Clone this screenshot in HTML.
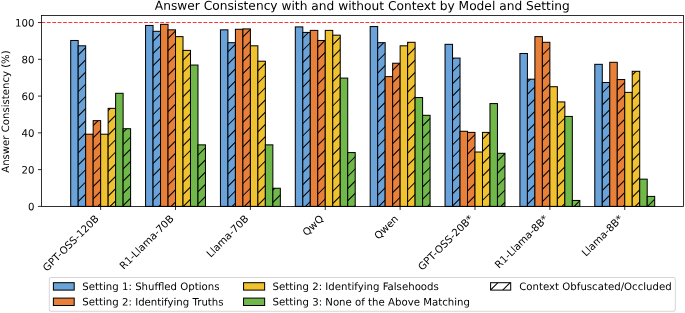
<!DOCTYPE html>
<html lang="en"><head><meta charset="utf-8"><title>Answer Consistency with and without Context by Model and Setting</title>
<style>html,body{margin:0;padding:0;background:#fff}svg{display:block;opacity:0.999;will-change:transform}text{text-rendering:geometricPrecision;font-family:"DejaVu Sans","Liberation Sans",sans-serif;fill:#000}</style>
</head><body>
<svg width="685" height="313" viewBox="0 0 685 313">
<rect width="685" height="313" fill="#fff"/>
<defs><clipPath id="c1"><rect x="78.19" y="45.8" width="7.49" height="160.6"/></clipPath><clipPath id="c2"><rect x="153.06" y="31.31" width="7.49" height="175.09"/></clipPath><clipPath id="c3"><rect x="227.93" y="42.68" width="7.49" height="163.72"/></clipPath><clipPath id="c4"><rect x="302.8" y="32.41" width="7.49" height="173.99"/></clipPath><clipPath id="c5"><rect x="377.67" y="42.68" width="7.49" height="163.72"/></clipPath><clipPath id="c6"><rect x="452.54" y="58.09" width="7.49" height="148.31"/></clipPath><clipPath id="c7"><rect x="527.41" y="79.19" width="7.49" height="127.21"/></clipPath><clipPath id="c8"><rect x="602.28" y="82.49" width="7.49" height="123.91"/></clipPath><clipPath id="c9"><rect x="93.16" y="120.65" width="7.49" height="85.75"/></clipPath><clipPath id="c10"><rect x="168.03" y="29.84" width="7.49" height="176.56"/></clipPath><clipPath id="c11"><rect x="242.9" y="28.92" width="7.49" height="177.48"/></clipPath><clipPath id="c12"><rect x="317.77" y="40.48" width="7.49" height="165.92"/></clipPath><clipPath id="c13"><rect x="392.64" y="63.23" width="7.49" height="143.17"/></clipPath><clipPath id="c14"><rect x="467.51" y="132.39" width="7.49" height="74.01"/></clipPath><clipPath id="c15"><rect x="542.38" y="42.31" width="7.49" height="164.09"/></clipPath><clipPath id="c16"><rect x="617.25" y="79.55" width="7.49" height="126.85"/></clipPath><clipPath id="c17"><rect x="108.14" y="108.35" width="7.49" height="98.05"/></clipPath><clipPath id="c18"><rect x="183.01" y="50.38" width="7.49" height="156.02"/></clipPath><clipPath id="c19"><rect x="257.88" y="61.21" width="7.49" height="145.19"/></clipPath><clipPath id="c20"><rect x="332.75" y="35.16" width="7.49" height="171.24"/></clipPath><clipPath id="c21"><rect x="407.62" y="42.31" width="7.49" height="164.09"/></clipPath><clipPath id="c22"><rect x="482.49" y="132.39" width="7.49" height="74.01"/></clipPath><clipPath id="c23"><rect x="557.36" y="101.93" width="7.49" height="104.47"/></clipPath><clipPath id="c24"><rect x="632.23" y="71.3" width="7.49" height="135.1"/></clipPath><clipPath id="c25"><rect x="123.11" y="128.72" width="7.49" height="77.68"/></clipPath><clipPath id="c26"><rect x="197.98" y="144.86" width="7.49" height="61.54"/></clipPath><clipPath id="c27"><rect x="272.85" y="188.25" width="7.49" height="18.15"/></clipPath><clipPath id="c28"><rect x="347.72" y="152.57" width="7.49" height="53.83"/></clipPath><clipPath id="c29"><rect x="422.59" y="115.33" width="7.49" height="91.07"/></clipPath><clipPath id="c30"><rect x="497.46" y="153.3" width="7.49" height="53.1"/></clipPath><clipPath id="c31"><rect x="572.33" y="200.45" width="7.49" height="5.95"/></clipPath><clipPath id="c32"><rect x="647.2" y="196.41" width="7.49" height="9.99"/></clipPath><clipPath id="cl"><rect x="490.6" y="282.7" width="20.1" height="7.4"/></clipPath></defs>
<g><rect x="70.7" y="40.48" width="7.49" height="165.92" fill="#6aa3d9" stroke="#000" stroke-width="1.02"/><rect x="145.57" y="25.44" width="7.49" height="180.96" fill="#6aa3d9" stroke="#000" stroke-width="1.02"/><rect x="220.44" y="29.84" width="7.49" height="176.56" fill="#6aa3d9" stroke="#000" stroke-width="1.02"/><rect x="295.31" y="26.9" width="7.49" height="179.5" fill="#6aa3d9" stroke="#000" stroke-width="1.02"/><rect x="370.18" y="26.54" width="7.49" height="179.86" fill="#6aa3d9" stroke="#000" stroke-width="1.02"/><rect x="445.05" y="44.33" width="7.49" height="162.07" fill="#6aa3d9" stroke="#000" stroke-width="1.02"/><rect x="519.92" y="53.5" width="7.49" height="152.9" fill="#6aa3d9" stroke="#000" stroke-width="1.02"/><rect x="594.79" y="64.33" width="7.49" height="142.07" fill="#6aa3d9" stroke="#000" stroke-width="1.02"/><rect x="78.19" y="45.8" width="7.49" height="160.6" fill="#6aa3d9"/><path clip-path="url(#c1)" d="M76.19 32.63L87.68 21.15M76.19 44.85L87.68 33.36M76.19 57.06L87.68 45.57M76.19 69.28L87.68 57.79M76.19 81.49L87.68 70M76.19 93.7L87.68 82.22M76.19 105.92L87.68 94.43M76.19 118.13L87.68 106.64M76.19 130.34L87.68 118.86M76.19 142.56L87.68 131.07M76.19 154.77L87.68 143.29M76.19 166.99L87.68 155.5M76.19 179.2L87.68 167.71M76.19 191.42L87.68 179.93M76.19 203.63L87.68 192.14M76.19 215.84L87.68 204.36M76.19 228.06L87.68 216.57M76.19 240.27L87.68 228.78" stroke="#000" stroke-width="1.02" fill="none"/><rect x="78.19" y="45.8" width="7.49" height="160.6" fill="none" stroke="#000" stroke-width="1.02"/><rect x="153.06" y="31.31" width="7.49" height="175.09" fill="#6aa3d9"/><path clip-path="url(#c2)" d="M151.06 18.83L162.55 7.35M151.06 31.05L162.55 19.56M151.06 43.26L162.55 31.77M151.06 55.47L162.55 43.99M151.06 67.69L162.55 56.2M151.06 79.9L162.55 68.42M151.06 92.12L162.55 80.63M151.06 104.33L162.55 92.84M151.06 116.55L162.55 105.06M151.06 128.76L162.55 117.27M151.06 140.97L162.55 129.49M151.06 153.19L162.55 141.7M151.06 165.4L162.55 153.91M151.06 177.62L162.55 166.13M151.06 189.83L162.55 178.34M151.06 202.04L162.55 190.56M151.06 214.26L162.55 202.77M151.06 226.47L162.55 214.98M151.06 238.69L162.55 227.2" stroke="#000" stroke-width="1.02" fill="none"/><rect x="153.06" y="31.31" width="7.49" height="175.09" fill="none" stroke="#000" stroke-width="1.02"/><rect x="227.93" y="42.68" width="7.49" height="163.72" fill="#6aa3d9"/><path clip-path="url(#c3)" d="M225.93 29.46L237.42 17.97M225.93 41.68L237.42 30.19M225.93 53.89L237.42 42.4M225.93 66.1L237.42 54.62M225.93 78.32L237.42 66.83M225.93 90.53L237.42 79.04M225.93 102.75L237.42 91.26M225.93 114.96L237.42 103.47M225.93 127.17L237.42 115.69M225.93 139.39L237.42 127.9M225.93 151.6L237.42 140.11M225.93 163.82L237.42 152.33M225.93 176.03L237.42 164.54M225.93 188.24L237.42 176.76M225.93 200.46L237.42 188.97M225.93 212.67L237.42 201.18M225.93 224.89L237.42 213.4M225.93 237.1L237.42 225.61" stroke="#000" stroke-width="1.02" fill="none"/><rect x="227.93" y="42.68" width="7.49" height="163.72" fill="none" stroke="#000" stroke-width="1.02"/><rect x="302.8" y="32.41" width="7.49" height="173.99" fill="#6aa3d9"/><path clip-path="url(#c4)" d="M300.8 15.66L312.29 4.17M300.8 27.88L312.29 16.39M300.8 40.09L312.29 28.6M300.8 52.3L312.29 40.82M300.8 64.52L312.29 53.03M300.8 76.73L312.29 65.24M300.8 88.94L312.29 77.46M300.8 101.16L312.29 89.67M300.8 113.37L312.29 101.89M300.8 125.59L312.29 114.1M300.8 137.8L312.29 126.31M300.8 150.01L312.29 138.53M300.8 162.23L312.29 150.74M300.8 174.44L312.29 162.96M300.8 186.66L312.29 175.17M300.8 198.87L312.29 187.38M300.8 211.08L312.29 199.6M300.8 223.3L312.29 211.81M300.8 235.51L312.29 224.03" stroke="#000" stroke-width="1.02" fill="none"/><rect x="302.8" y="32.41" width="7.49" height="173.99" fill="none" stroke="#000" stroke-width="1.02"/><rect x="377.67" y="42.68" width="7.49" height="163.72" fill="#6aa3d9"/><path clip-path="url(#c5)" d="M375.67 26.29L387.16 14.8M375.67 38.5L387.16 27.02M375.67 50.72L387.16 39.23M375.67 62.93L387.16 51.44M375.67 75.14L387.16 63.66M375.67 87.36L387.16 75.87M375.67 99.57L387.16 88.09M375.67 111.79L387.16 100.3M375.67 124L387.16 112.51M375.67 136.21L387.16 124.73M375.67 148.43L387.16 136.94M375.67 160.64L387.16 149.16M375.67 172.86L387.16 161.37M375.67 185.07L387.16 173.58M375.67 197.29L387.16 185.8M375.67 209.5L387.16 198.01M375.67 221.71L387.16 210.23M375.67 233.93L387.16 222.44" stroke="#000" stroke-width="1.02" fill="none"/><rect x="377.67" y="42.68" width="7.49" height="163.72" fill="none" stroke="#000" stroke-width="1.02"/><rect x="452.54" y="58.09" width="7.49" height="148.31" fill="#6aa3d9"/><path clip-path="url(#c6)" d="M450.54 36.92L462.03 25.43M450.54 49.13L462.03 37.64M450.54 61.34L462.03 49.86M450.54 73.56L462.03 62.07M450.54 85.77L462.03 74.29M450.54 97.99L462.03 86.5M450.54 110.2L462.03 98.71M450.54 122.42L462.03 110.93M450.54 134.63L462.03 123.14M450.54 146.84L462.03 135.36M450.54 159.06L462.03 147.57M450.54 171.27L462.03 159.78M450.54 183.48L462.03 172M450.54 195.7L462.03 184.21M450.54 207.91L462.03 196.43M450.54 220.13L462.03 208.64M450.54 232.34L462.03 220.85" stroke="#000" stroke-width="1.02" fill="none"/><rect x="452.54" y="58.09" width="7.49" height="148.31" fill="none" stroke="#000" stroke-width="1.02"/><rect x="527.41" y="79.19" width="7.49" height="127.21" fill="#6aa3d9"/><path clip-path="url(#c7)" d="M525.41 59.76L536.9 48.27M525.41 71.97L536.9 60.49M525.41 84.19L536.9 72.7M525.41 96.4L536.9 84.91M525.41 108.62L536.9 97.13M525.41 120.83L536.9 109.34M525.41 133.04L536.9 121.56M525.41 145.26L536.9 133.77M525.41 157.47L536.9 145.98M525.41 169.69L536.9 158.2M525.41 181.9L536.9 170.41M525.41 194.11L536.9 182.63M525.41 206.33L536.9 194.84M525.41 218.54L536.9 207.05M525.41 230.75L536.9 219.27" stroke="#000" stroke-width="1.02" fill="none"/><rect x="527.41" y="79.19" width="7.49" height="127.21" fill="none" stroke="#000" stroke-width="1.02"/><rect x="602.28" y="82.49" width="7.49" height="123.91" fill="#6aa3d9"/><path clip-path="url(#c8)" d="M600.28 70.39L611.77 58.9M600.28 82.6L611.77 71.11M600.28 94.82L611.77 83.33M600.28 107.03L611.77 95.54M600.28 119.24L611.77 107.76M600.28 131.46L611.77 119.97M600.28 143.67L611.77 132.18M600.28 155.88L611.77 144.4M600.28 168.1L611.77 156.61M600.28 180.31L611.77 168.83M600.28 192.53L611.77 181.04M600.28 204.74L611.77 193.25M600.28 216.96L611.77 205.47M600.28 229.17L611.77 217.68" stroke="#000" stroke-width="1.02" fill="none"/><rect x="602.28" y="82.49" width="7.49" height="123.91" fill="none" stroke="#000" stroke-width="1.02"/><rect x="85.68" y="134.22" width="7.49" height="72.18" fill="#e8803a" stroke="#000" stroke-width="1.02"/><rect x="160.55" y="24.33" width="7.49" height="182.07" fill="#e8803a" stroke="#000" stroke-width="1.02"/><rect x="235.42" y="29.29" width="7.49" height="177.11" fill="#e8803a" stroke="#000" stroke-width="1.02"/><rect x="310.29" y="30.39" width="7.49" height="176.01" fill="#e8803a" stroke="#000" stroke-width="1.02"/><rect x="385.16" y="76.62" width="7.49" height="129.78" fill="#e8803a" stroke="#000" stroke-width="1.02"/><rect x="460.03" y="131.29" width="7.49" height="75.11" fill="#e8803a" stroke="#000" stroke-width="1.02"/><rect x="534.9" y="36.63" width="7.49" height="169.77" fill="#e8803a" stroke="#000" stroke-width="1.02"/><rect x="609.77" y="62.31" width="7.49" height="144.09" fill="#e8803a" stroke="#000" stroke-width="1.02"/><rect x="93.16" y="120.65" width="7.49" height="85.75" fill="#e8803a"/><path clip-path="url(#c9)" d="M91.16 103.16L102.65 91.67M91.16 115.37L102.65 103.88M91.16 127.58L102.65 116.1M91.16 139.8L102.65 128.31M91.16 152.01L102.65 140.53M91.16 164.23L102.65 152.74M91.16 176.44L102.65 164.95M91.16 188.66L102.65 177.17M91.16 200.87L102.65 189.38M91.16 213.08L102.65 201.6M91.16 225.3L102.65 213.81M91.16 237.51L102.65 226.02" stroke="#000" stroke-width="1.02" fill="none"/><rect x="93.16" y="120.65" width="7.49" height="85.75" fill="none" stroke="#000" stroke-width="1.02"/><rect x="168.03" y="29.84" width="7.49" height="176.56" fill="#e8803a"/><path clip-path="url(#c10)" d="M166.03 16.07L177.52 4.59M166.03 28.29L177.52 16.8M166.03 40.5L177.52 29.01M166.03 52.71L177.52 41.23M166.03 64.93L177.52 53.44M166.03 77.14L177.52 65.66M166.03 89.36L177.52 77.87M166.03 101.57L177.52 90.08M166.03 113.79L177.52 102.3M166.03 126L177.52 114.51M166.03 138.21L177.52 126.73M166.03 150.43L177.52 138.94M166.03 162.64L177.52 151.15M166.03 174.86L177.52 163.37M166.03 187.07L177.52 175.58M166.03 199.28L177.52 187.8M166.03 211.5L177.52 200.01M166.03 223.71L177.52 212.22M166.03 235.93L177.52 224.44" stroke="#000" stroke-width="1.02" fill="none"/><rect x="168.03" y="29.84" width="7.49" height="176.56" fill="none" stroke="#000" stroke-width="1.02"/><rect x="242.9" y="28.92" width="7.49" height="177.48" fill="#e8803a"/><path clip-path="url(#c11)" d="M240.9 14.49L252.39 3M240.9 26.7L252.39 15.21M240.9 38.92L252.39 27.43M240.9 51.13L252.39 39.64M240.9 63.34L252.39 51.86M240.9 75.56L252.39 64.07M240.9 87.77L252.39 76.28M240.9 99.99L252.39 88.5M240.9 112.2L252.39 100.71M240.9 124.41L252.39 112.93M240.9 136.63L252.39 125.14M240.9 148.84L252.39 137.35M240.9 161.06L252.39 149.57M240.9 173.27L252.39 161.78M240.9 185.48L252.39 174M240.9 197.7L252.39 186.21M240.9 209.91L252.39 198.42M240.9 222.12L252.39 210.64M240.9 234.34L252.39 222.85" stroke="#000" stroke-width="1.02" fill="none"/><rect x="242.9" y="28.92" width="7.49" height="177.48" fill="none" stroke="#000" stroke-width="1.02"/><rect x="317.77" y="40.48" width="7.49" height="165.92" fill="#e8803a"/><path clip-path="url(#c12)" d="M315.77 25.12L327.26 13.63M315.77 37.33L327.26 25.84M315.77 49.54L327.26 38.06M315.77 61.76L327.26 50.27M315.77 73.97L327.26 62.48M315.77 86.19L327.26 74.7M315.77 98.4L327.26 86.91M315.77 110.61L327.26 99.13M315.77 122.83L327.26 111.34M315.77 135.04L327.26 123.55M315.77 147.25L327.26 135.77M315.77 159.47L327.26 147.98M315.77 171.68L327.26 160.2M315.77 183.9L327.26 172.41M315.77 196.11L327.26 184.62M315.77 208.33L327.26 196.84M315.77 220.54L327.26 209.05M315.77 232.75L327.26 221.27" stroke="#000" stroke-width="1.02" fill="none"/><rect x="317.77" y="40.48" width="7.49" height="165.92" fill="none" stroke="#000" stroke-width="1.02"/><rect x="392.64" y="63.23" width="7.49" height="143.17" fill="#e8803a"/><path clip-path="url(#c13)" d="M390.64 47.96L402.13 36.47M390.64 60.17L402.13 48.68M390.64 72.38L402.13 60.9M390.64 84.6L402.13 73.11M390.64 96.81L402.13 85.33M390.64 109.03L402.13 97.54M390.64 121.24L402.13 109.75M390.64 133.46L402.13 121.97M390.64 145.67L402.13 134.18M390.64 157.88L402.13 146.4M390.64 170.1L402.13 158.61M390.64 182.31L402.13 170.82M390.64 194.52L402.13 183.04M390.64 206.74L402.13 195.25M390.64 218.95L402.13 207.47M390.64 231.17L402.13 219.68" stroke="#000" stroke-width="1.02" fill="none"/><rect x="392.64" y="63.23" width="7.49" height="143.17" fill="none" stroke="#000" stroke-width="1.02"/><rect x="467.51" y="132.39" width="7.49" height="74.01" fill="#e8803a"/><path clip-path="url(#c14)" d="M465.51 119.65L477 108.17M465.51 131.87L477 120.38M465.51 144.08L477 132.6M465.51 156.3L477 144.81M465.51 168.51L477 157.02M465.51 180.73L477 169.24M465.51 192.94L477 181.45M465.51 205.15L477 193.67M465.51 217.37L477 205.88M465.51 229.58L477 218.09" stroke="#000" stroke-width="1.02" fill="none"/><rect x="467.51" y="132.39" width="7.49" height="74.01" fill="none" stroke="#000" stroke-width="1.02"/><rect x="542.38" y="42.31" width="7.49" height="164.09" fill="#e8803a"/><path clip-path="url(#c15)" d="M540.38 20.36L551.87 8.87M540.38 32.57L551.87 21.08M540.38 44.78L551.87 33.3M540.38 57L551.87 45.51M540.38 69.21L551.87 57.73M540.38 81.43L551.87 69.94M540.38 93.64L551.87 82.15M540.38 105.86L551.87 94.37M540.38 118.07L551.87 106.58M540.38 130.28L551.87 118.8M540.38 142.5L551.87 131.01M540.38 154.71L551.87 143.22M540.38 166.92L551.87 155.44M540.38 179.14L551.87 167.65M540.38 191.35L551.87 179.87M540.38 203.57L551.87 192.08M540.38 215.78L551.87 204.29M540.38 228L551.87 216.51M540.38 240.21L551.87 228.72" stroke="#000" stroke-width="1.02" fill="none"/><rect x="542.38" y="42.31" width="7.49" height="164.09" fill="none" stroke="#000" stroke-width="1.02"/><rect x="617.25" y="79.55" width="7.49" height="126.85" fill="#e8803a"/><path clip-path="url(#c16)" d="M615.25 67.63L626.74 56.14M615.25 79.84L626.74 68.35M615.25 92.05L626.74 80.57M615.25 104.27L626.74 92.78M615.25 116.48L626.74 105M615.25 128.7L626.74 117.21M615.25 140.91L626.74 129.42M615.25 153.12L626.74 141.64M615.25 165.34L626.74 153.85M615.25 177.55L626.74 166.07M615.25 189.77L626.74 178.28M615.25 201.98L626.74 190.49M615.25 214.2L626.74 202.71M615.25 226.41L626.74 214.92M615.25 238.62L626.74 227.14" stroke="#000" stroke-width="1.02" fill="none"/><rect x="617.25" y="79.55" width="7.49" height="126.85" fill="none" stroke="#000" stroke-width="1.02"/><rect x="100.65" y="134.22" width="7.49" height="72.18" fill="#f0c22f" stroke="#000" stroke-width="1.02"/><rect x="175.52" y="36.63" width="7.49" height="169.77" fill="#f0c22f" stroke="#000" stroke-width="1.02"/><rect x="250.39" y="45.8" width="7.49" height="160.6" fill="#f0c22f" stroke="#000" stroke-width="1.02"/><rect x="325.26" y="30.39" width="7.49" height="176.01" fill="#f0c22f" stroke="#000" stroke-width="1.02"/><rect x="400.13" y="45.8" width="7.49" height="160.6" fill="#f0c22f" stroke="#000" stroke-width="1.02"/><rect x="475" y="152.02" width="7.49" height="54.38" fill="#f0c22f" stroke="#000" stroke-width="1.02"/><rect x="549.87" y="86.71" width="7.49" height="119.69" fill="#f0c22f" stroke="#000" stroke-width="1.02"/><rect x="624.74" y="92.39" width="7.49" height="114.01" fill="#f0c22f" stroke="#000" stroke-width="1.02"/><rect x="108.14" y="108.35" width="7.49" height="98.05" fill="#f0c22f"/><path clip-path="url(#c17)" d="M106.14 88.18L117.62 76.7M106.14 100.4L117.62 88.91M106.14 112.61L117.62 101.12M106.14 124.82L117.62 113.34M106.14 137.04L117.62 125.55M106.14 149.25L117.62 137.77M106.14 161.47L117.62 149.98M106.14 173.68L117.62 162.19M106.14 185.9L117.62 174.41M106.14 198.11L117.62 186.62M106.14 210.32L117.62 198.84M106.14 222.54L117.62 211.05M106.14 234.75L117.62 223.26" stroke="#000" stroke-width="1.02" fill="none"/><rect x="108.14" y="108.35" width="7.49" height="98.05" fill="none" stroke="#000" stroke-width="1.02"/><rect x="183.01" y="50.38" width="7.49" height="156.02" fill="#f0c22f"/><path clip-path="url(#c18)" d="M181.01 37.74L192.49 26.25M181.01 49.95L192.49 38.47M181.01 62.17L192.49 50.68M181.01 74.38L192.49 62.9M181.01 86.6L192.49 75.11M181.01 98.81L192.49 87.32M181.01 111.03L192.49 99.54M181.01 123.24L192.49 111.75M181.01 135.45L192.49 123.97M181.01 147.67L192.49 136.18M181.01 159.88L192.49 148.39M181.01 172.1L192.49 160.61M181.01 184.31L192.49 172.82M181.01 196.52L192.49 185.04M181.01 208.74L192.49 197.25M181.01 220.95L192.49 209.46M181.01 233.17L192.49 221.68" stroke="#000" stroke-width="1.02" fill="none"/><rect x="183.01" y="50.38" width="7.49" height="156.02" fill="none" stroke="#000" stroke-width="1.02"/><rect x="257.88" y="61.21" width="7.49" height="145.19" fill="#f0c22f"/><path clip-path="url(#c19)" d="M255.88 48.37L267.36 36.88M255.88 60.58L267.36 49.1M255.88 72.8L267.36 61.31M255.88 85.01L267.36 73.52M255.88 97.23L267.36 85.74M255.88 109.44L267.36 97.95M255.88 121.65L267.36 110.17M255.88 133.87L267.36 122.38M255.88 146.08L267.36 134.59M255.88 158.3L267.36 146.81M255.88 170.51L267.36 159.02M255.88 182.72L267.36 171.24M255.88 194.94L267.36 183.45M255.88 207.15L267.36 195.66M255.88 219.37L267.36 207.88M255.88 231.58L267.36 220.09" stroke="#000" stroke-width="1.02" fill="none"/><rect x="257.88" y="61.21" width="7.49" height="145.19" fill="none" stroke="#000" stroke-width="1.02"/><rect x="332.75" y="35.16" width="7.49" height="171.24" fill="#f0c22f"/><path clip-path="url(#c20)" d="M330.75 22.36L342.23 10.87M330.75 34.57L342.23 23.08M330.75 46.78L342.23 35.3M330.75 59L342.23 47.51M330.75 71.21L342.23 59.72M330.75 83.43L342.23 71.94M330.75 95.64L342.23 84.15M330.75 107.85L342.23 96.37M330.75 120.07L342.23 108.58M330.75 132.28L342.23 120.79M330.75 144.5L342.23 133.01M330.75 156.71L342.23 145.22M330.75 168.92L342.23 157.44M330.75 181.14L342.23 169.65M330.75 193.35L342.23 181.86M330.75 205.56L342.23 194.08M330.75 217.78L342.23 206.29M330.75 229.99L342.23 218.51" stroke="#000" stroke-width="1.02" fill="none"/><rect x="332.75" y="35.16" width="7.49" height="171.24" fill="none" stroke="#000" stroke-width="1.02"/><rect x="407.62" y="42.31" width="7.49" height="164.09" fill="#f0c22f"/><path clip-path="url(#c21)" d="M405.62 20.77L417.1 9.28M405.62 32.98L417.1 21.5M405.62 45.2L417.1 33.71M405.62 57.41L417.1 45.92M405.62 69.62L417.1 58.14M405.62 81.84L417.1 70.35M405.62 94.05L417.1 82.57M405.62 106.27L417.1 94.78M405.62 118.48L417.1 106.99M405.62 130.69L417.1 119.21M405.62 142.91L417.1 131.42M405.62 155.12L417.1 143.64M405.62 167.34L417.1 155.85M405.62 179.55L417.1 168.06M405.62 191.77L417.1 180.28M405.62 203.98L417.1 192.49M405.62 216.19L417.1 204.71M405.62 228.41L417.1 216.92" stroke="#000" stroke-width="1.02" fill="none"/><rect x="407.62" y="42.31" width="7.49" height="164.09" fill="none" stroke="#000" stroke-width="1.02"/><rect x="482.49" y="132.39" width="7.49" height="74.01" fill="#f0c22f"/><path clip-path="url(#c22)" d="M480.49 116.9L491.97 105.41M480.49 129.11L491.97 117.62M480.49 141.32L491.97 129.84M480.49 153.54L491.97 142.05M480.49 165.75L491.97 154.26M480.49 177.96L491.97 166.48M480.49 190.18L491.97 178.69M480.49 202.39L491.97 190.91M480.49 214.61L491.97 203.12M480.49 226.82L491.97 215.33M480.49 239.04L491.97 227.55" stroke="#000" stroke-width="1.02" fill="none"/><rect x="482.49" y="132.39" width="7.49" height="74.01" fill="none" stroke="#000" stroke-width="1.02"/><rect x="557.36" y="101.93" width="7.49" height="104.47" fill="#f0c22f"/><path clip-path="url(#c23)" d="M555.36 90.88L566.84 79.39M555.36 103.1L566.84 91.61M555.36 115.31L566.84 103.82M555.36 127.52L566.84 116.04M555.36 139.74L566.84 128.25M555.36 151.95L566.84 140.46M555.36 164.17L566.84 152.68M555.36 176.38L566.84 164.89M555.36 188.59L566.84 177.11M555.36 200.81L566.84 189.32M555.36 213.02L566.84 201.53M555.36 225.24L566.84 213.75M555.36 237.45L566.84 225.96" stroke="#000" stroke-width="1.02" fill="none"/><rect x="557.36" y="101.93" width="7.49" height="104.47" fill="none" stroke="#000" stroke-width="1.02"/><rect x="632.23" y="71.3" width="7.49" height="135.1" fill="#f0c22f"/><path clip-path="url(#c24)" d="M630.23 52.65L641.71 41.17M630.23 64.87L641.71 53.38M630.23 77.08L641.71 65.59M630.23 89.29L641.71 77.81M630.23 101.51L641.71 90.02M630.23 113.72L641.71 102.24M630.23 125.94L641.71 114.45M630.23 138.15L641.71 126.66M630.23 150.36L641.71 138.88M630.23 162.58L641.71 151.09M630.23 174.79L641.71 163.31M630.23 187.01L641.71 175.52M630.23 199.22L641.71 187.73M630.23 211.43L641.71 199.95M630.23 223.65L641.71 212.16M630.23 235.86L641.71 224.38" stroke="#000" stroke-width="1.02" fill="none"/><rect x="632.23" y="71.3" width="7.49" height="135.1" fill="none" stroke="#000" stroke-width="1.02"/><rect x="115.62" y="93.31" width="7.49" height="113.09" fill="#70b84a" stroke="#000" stroke-width="1.02"/><rect x="190.49" y="65.06" width="7.49" height="141.34" fill="#70b84a" stroke="#000" stroke-width="1.02"/><rect x="265.36" y="144.86" width="7.49" height="61.54" fill="#70b84a" stroke="#000" stroke-width="1.02"/><rect x="340.23" y="78.09" width="7.49" height="128.31" fill="#70b84a" stroke="#000" stroke-width="1.02"/><rect x="415.1" y="97.53" width="7.49" height="108.87" fill="#70b84a" stroke="#000" stroke-width="1.02"/><rect x="489.97" y="103.58" width="7.49" height="102.82" fill="#70b84a" stroke="#000" stroke-width="1.02"/><rect x="564.84" y="116.43" width="7.49" height="89.97" fill="#70b84a" stroke="#000" stroke-width="1.02"/><rect x="639.71" y="179.17" width="7.49" height="27.23" fill="#70b84a" stroke="#000" stroke-width="1.02"/><rect x="123.11" y="128.72" width="7.49" height="77.68" fill="#70b84a"/><path clip-path="url(#c25)" d="M121.11 109.85L132.6 98.36M121.11 122.06L132.6 110.58M121.11 134.28L132.6 122.79M121.11 146.49L132.6 135.01M121.11 158.71L132.6 147.22M121.11 170.92L132.6 159.43M121.11 183.14L132.6 171.65M121.11 195.35L132.6 183.86M121.11 207.56L132.6 196.08M121.11 219.78L132.6 208.29M121.11 231.99L132.6 220.5" stroke="#000" stroke-width="1.02" fill="none"/><rect x="123.11" y="128.72" width="7.49" height="77.68" fill="none" stroke="#000" stroke-width="1.02"/><rect x="197.98" y="144.86" width="7.49" height="61.54" fill="#70b84a"/><path clip-path="url(#c26)" d="M195.98 132.69L207.47 121.21M195.98 144.91L207.47 133.42M195.98 157.12L207.47 145.63M195.98 169.34L207.47 157.85M195.98 181.55L207.47 170.06M195.98 193.76L207.47 182.28M195.98 205.98L207.47 194.49M195.98 218.19L207.47 206.7M195.98 230.41L207.47 218.92" stroke="#000" stroke-width="1.02" fill="none"/><rect x="197.98" y="144.86" width="7.49" height="61.54" fill="none" stroke="#000" stroke-width="1.02"/><rect x="272.85" y="188.25" width="7.49" height="18.15" fill="#70b84a"/><path clip-path="url(#c27)" d="M270.85 167.75L282.34 156.26M270.85 179.96L282.34 168.48M270.85 192.18L282.34 180.69M270.85 204.39L282.34 192.9M270.85 216.61L282.34 205.12M270.85 228.82L282.34 217.33" stroke="#000" stroke-width="1.02" fill="none"/><rect x="272.85" y="188.25" width="7.49" height="18.15" fill="none" stroke="#000" stroke-width="1.02"/><rect x="347.72" y="152.57" width="7.49" height="53.83" fill="#70b84a"/><path clip-path="url(#c28)" d="M345.72 141.74L357.21 130.25M345.72 153.95L357.21 142.46M345.72 166.16L357.21 154.68M345.72 178.38L357.21 166.89M345.72 190.59L357.21 179.1M345.72 202.81L357.21 191.32M345.72 215.02L357.21 203.53M345.72 227.23L357.21 215.75M345.72 239.45L357.21 227.96" stroke="#000" stroke-width="1.02" fill="none"/><rect x="347.72" y="152.57" width="7.49" height="53.83" fill="none" stroke="#000" stroke-width="1.02"/><rect x="422.59" y="115.33" width="7.49" height="91.07" fill="#70b84a"/><path clip-path="url(#c29)" d="M420.59 103.51L432.08 92.02M420.59 115.72L432.08 104.23M420.59 127.94L432.08 116.45M420.59 140.15L432.08 128.66M420.59 152.36L432.08 140.88M420.59 164.58L432.08 153.09M420.59 176.79L432.08 165.3M420.59 189L432.08 177.52M420.59 201.22L432.08 189.73M420.59 213.43L432.08 201.95M420.59 225.65L432.08 214.16M420.59 237.86L432.08 226.37" stroke="#000" stroke-width="1.02" fill="none"/><rect x="422.59" y="115.33" width="7.49" height="91.07" fill="none" stroke="#000" stroke-width="1.02"/><rect x="497.46" y="153.3" width="7.49" height="53.1" fill="#70b84a"/><path clip-path="url(#c30)" d="M495.46 138.56L506.95 127.08M495.46 150.78L506.95 139.29M495.46 162.99L506.95 151.5M495.46 175.21L506.95 163.72M495.46 187.42L506.95 175.93M495.46 199.63L506.95 188.15M495.46 211.85L506.95 200.36M495.46 224.06L506.95 212.57M495.46 236.27L506.95 224.79" stroke="#000" stroke-width="1.02" fill="none"/><rect x="497.46" y="153.3" width="7.49" height="53.1" fill="none" stroke="#000" stroke-width="1.02"/><rect x="572.33" y="200.45" width="7.49" height="5.95" fill="#70b84a"/><path clip-path="url(#c31)" d="M570.33 185.83L581.82 174.35M570.33 198.05L581.82 186.56M570.33 210.26L581.82 198.77M570.33 222.48L581.82 210.99M570.33 234.69L581.82 223.2" stroke="#000" stroke-width="1.02" fill="none"/><rect x="572.33" y="200.45" width="7.49" height="5.95" fill="none" stroke="#000" stroke-width="1.02"/><rect x="647.2" y="196.41" width="7.49" height="9.99" fill="#70b84a"/><path clip-path="url(#c32)" d="M645.2 184.25L656.69 172.76M645.2 196.46L656.69 184.97M645.2 208.68L656.69 197.19M645.2 220.89L656.69 209.4M645.2 233.1L656.69 221.62" stroke="#000" stroke-width="1.02" fill="none"/><rect x="647.2" y="196.41" width="7.49" height="9.99" fill="none" stroke="#000" stroke-width="1.02"/></g>
<line x1="41.5" y1="22.55" x2="683.5" y2="22.55" stroke="#ff0000" stroke-opacity="0.8" stroke-width="1.02" stroke-dasharray="3.77 1.63"/>
<path d="M100.65 206.4V209.96M175.52 206.4V209.96M250.39 206.4V209.96M325.26 206.4V209.96M400.13 206.4V209.96M475 206.4V209.96M549.87 206.4V209.96M624.74 206.4V209.96M41.5 206.4H37.94M41.5 169.63H37.94M41.5 132.86H37.94M41.5 96.09H37.94M41.5 59.32H37.94M41.5 22.55H37.94" stroke="#000" stroke-width="0.81" fill="none"/>
<rect x="41.5" y="15.5" width="642" height="190.9" fill="none" stroke="#000" stroke-width="0.81"/>
<text transform="translate(34.4 210.3) rotate(0.05)" font-size="10.18" text-anchor="end">0</text>
<text transform="translate(34.4 173.53) rotate(0.05)" font-size="10.18" text-anchor="end">20</text>
<text transform="translate(34.4 136.76) rotate(0.05)" font-size="10.18" text-anchor="end">40</text>
<text transform="translate(34.4 99.99) rotate(0.05)" font-size="10.18" text-anchor="end">60</text>
<text transform="translate(34.4 63.22) rotate(0.05)" font-size="10.18" text-anchor="end">80</text>
<text transform="translate(34.4 26.45) rotate(0.05)" font-size="10.18" text-anchor="end">100</text>
<text transform="translate(99.45 219.4) rotate(-45)" font-size="10.18" text-anchor="end">GPT-OSS-120B</text>
<text transform="translate(174.32 219.4) rotate(-45)" font-size="10.18" text-anchor="end">R1-Llama-70B</text>
<text transform="translate(249.19 219.4) rotate(-45)" font-size="10.18" text-anchor="end">Llama-70B</text>
<text transform="translate(324.06 219.4) rotate(-45)" font-size="10.18" text-anchor="end">QwQ</text>
<text transform="translate(398.93 219.4) rotate(-45)" font-size="10.18" text-anchor="end">Qwen</text>
<text transform="translate(473.8 219.4) rotate(-45)" font-size="10.18" text-anchor="end">GPT-OSS-20B*</text>
<text transform="translate(548.67 219.4) rotate(-45)" font-size="10.18" text-anchor="end">R1-Llama-8B*</text>
<text transform="translate(623.54 219.4) rotate(-45)" font-size="10.18" text-anchor="end">Llama-8B*</text>
<text transform="translate(8.6 111.55) rotate(-90)" font-size="10.13" text-anchor="middle">Answer Consistency (%)</text>
<text transform="translate(362.3 9.95) rotate(0.05)" font-size="12.22" text-anchor="middle">Answer Consistency with and without Context by Model and Setting</text>
<rect x="49.3" y="277.4" width="626" height="33.9" rx="2" ry="2" fill="#fff" fill-opacity="0.8" stroke="#ccc" stroke-opacity="0.8" stroke-width="1.02"/>
<rect x="53.4" y="282.7" width="20.8" height="7.4" fill="#6aa3d9" stroke="#000" stroke-width="1.02"/>
<text transform="translate(82.35 289.95) rotate(0.05)" font-size="10.18">Setting 1: Shuffled Options</text>
<rect x="53.4" y="298.1" width="20.8" height="7.4" fill="#e8803a" stroke="#000" stroke-width="1.02"/>
<text transform="translate(82.35 305.35) rotate(0.05)" font-size="10.18">Setting 2: Identifying Truths</text>
<rect x="243.55" y="282.7" width="21.1" height="7.4" fill="#f0c22f" stroke="#000" stroke-width="1.02"/>
<text transform="translate(272.5 289.95) rotate(0.05)" font-size="10.18">Setting 2: Identifying Falsehoods</text>
<rect x="243.55" y="298.1" width="21.1" height="7.4" fill="#70b84a" stroke="#000" stroke-width="1.02"/>
<text transform="translate(272.5 305.35) rotate(0.05)" font-size="10.18">Setting 3: None of the Above Matching</text>
<rect x="490.6" y="282.7" width="20.1" height="7.4" fill="#fff"/>
<path clip-path="url(#cl)" d="M488.6 267.56L512.7 243.46M488.6 279.78L512.7 255.68M488.6 291.99L512.7 267.89M488.6 304.21L512.7 280.11M488.6 316.42L512.7 292.32M488.6 328.63L512.7 304.53" stroke="#000" stroke-width="1.02" fill="none"/>
<rect x="490.6" y="282.7" width="20.1" height="7.4" fill="none" stroke="#000" stroke-width="1.02"/>
<text transform="translate(519.25 289.95) rotate(0.05)" font-size="10.18">Context Obfuscated/Occluded</text>
</svg></body></html>
